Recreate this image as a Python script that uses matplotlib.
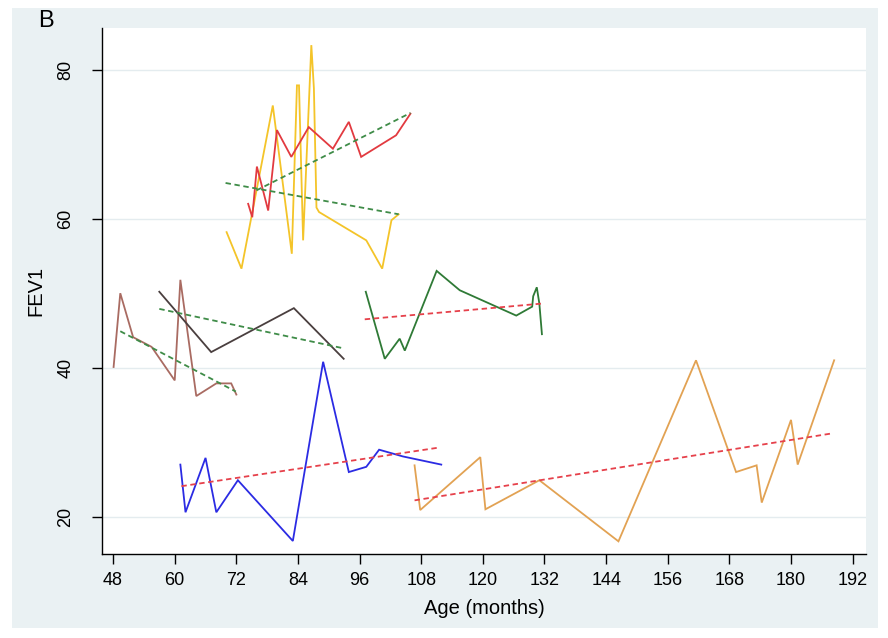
import matplotlib
matplotlib.use("Agg")
import matplotlib.pyplot as plt
from matplotlib.patches import Rectangle

# ---- individual FEV1 trajectories (age in months, FEV1) ----
red_age = [74.3, 75.1, 76.0, 78.2, 79.9, 82.7, 86.1, 90.8, 93.9, 96.3, 103.1, 105.9]
red_fev = [62.0, 60.2, 67.0, 61.1, 71.9, 68.3, 72.3, 69.4, 73.0, 68.3, 71.2, 74.1]

yellow_age = [70.1, 73.0, 79.1, 82.8, 83.8, 84.2, 85.0, 86.6, 87.1, 87.6, 88.1, 97.3, 100.4, 102.2, 103.6]
yellow_fev = [58.2, 53.3, 75.2, 55.3, 77.9, 77.9, 57.1, 83.3, 77.5, 61.5, 60.9, 57.1, 53.3, 59.8, 60.6]

brown_age = [48.1, 49.4, 51.9, 55.5, 60.0, 61.1, 64.2, 68.1, 71.0, 72.0]
brown_fev = [40.1, 50.0, 44.1, 42.8, 38.3, 51.8, 36.2, 37.9, 37.9, 36.4]

gray_age = [57.0, 67.1, 83.2, 92.9]
gray_fev = [50.2, 42.1, 48.0, 41.2]

green_age = [97.2, 100.9, 103.8, 104.8, 111.0, 115.5, 126.5, 129.6, 129.8, 130.5, 131.0, 131.5]
green_fev = [50.2, 41.2, 43.9, 42.3, 53.0, 50.4, 47.0, 48.2, 49.6, 50.8, 48.6, 44.5]

blue_age = [61.1, 62.1, 66.0, 68.1, 72.3, 83.0, 88.9, 93.9, 97.3, 99.8, 104.4, 111.9]
blue_fev = [27.0, 20.6, 27.9, 20.6, 24.9, 16.75, 40.8, 26.0, 26.7, 29.0, 28.1, 27.0]

orange_age = [106.7, 107.8, 119.5, 120.5, 131.0, 146.4, 161.5, 169.3, 173.3, 174.3, 180.0, 181.3, 188.4]
orange_fev = [26.9, 20.9, 28.0, 21.0, 24.9, 16.7, 41.0, 26.0, 26.9, 21.9, 33.0, 27.0, 41.0]

# ---- fitted linear trends (start / end of each subject's age range) ----
fit_red_age, fit_red_fev = [75.9, 105.9], [63.8, 74.2]
fit_yellow_age, fit_yellow_fev = [69.9, 103.6], [64.8, 60.6]
fit_brown_age, fit_brown_fev = [49.4, 71.9], [44.9, 36.8]
fit_gray_age, fit_gray_fev = [57.0, 92.9], [47.9, 42.6]
fit_green_age, fit_green_fev = [97.0, 131.3], [46.5, 48.6]
fit_blue_age, fit_blue_fev = [61.3, 111.6], [24.1, 29.3]
fit_orange_age, fit_orange_fev = [106.7, 188.1], [22.2, 31.2]

x_ticks = [48, 60, 72, 84, 96, 108, 120, 132, 144, 156, 168, 180, 192]
y_ticks = [20, 40, 60, 80]

panel_bg = "#eaf1f3"
grid_col = "#e4ecef"

plt.rcParams["font.family"] = ["Liberation Sans", "DejaVu Sans"]

fig = plt.figure(figsize=(8.88, 6.38), dpi=100)
fig.patch.set_facecolor("white")
fig.patches.append(Rectangle((12 / 888, 1 - 628 / 638), (878 - 12) / 888, (628 - 8) / 638,
                             transform=fig.transFigure, facecolor=panel_bg,
                             edgecolor="none", zorder=-5))

ax = fig.add_axes([102.3 / 888, 1 - 554 / 638, (866 - 102.3) / 888, (554 - 28) / 638])
ax.set_zorder(5)
ax.set_facecolor("white")
ax.set_xlim(45.9, 194.6)
ax.set_ylim(15.0, 85.6)

for y in y_ticks:
    ax.axhline(y, color=grid_col, lw=1.0, zorder=1)

solid_lw = 1.3
series = [
    (yellow_age, yellow_fev, "#f4c429"),
    (red_age, red_fev, "#e23a40"),
    (brown_age, brown_fev, "#a96b62"),
    (gray_age, gray_fev, "#4a3f3f"),
    (green_age, green_fev, "#2f7a36"),
    (blue_age, blue_fev, "#2b2be3"),
    (orange_age, orange_fev, "#e2a253"),
]
for xs, ys, c in series:
    ax.plot(xs, ys, color=c, lw=solid_lw, solid_joinstyle="miter", zorder=3)

dash = (0, (3.0, 2.0))
fits_green = [(fit_red_age, fit_red_fev), (fit_yellow_age, fit_yellow_fev),
              (fit_brown_age, fit_brown_fev), (fit_gray_age, fit_gray_fev)]
fits_red = [(fit_green_age, fit_green_fev), (fit_blue_age, fit_blue_fev),
            (fit_orange_age, fit_orange_fev)]
for xs, ys in fits_green:
    ax.plot(xs, ys, color="#3f8c48", lw=1.3, linestyle=dash, zorder=4)
for xs, ys in fits_red:
    ax.plot(xs, ys, color="#e6414b", lw=1.3, linestyle=dash, zorder=4)

ax.set_xticks(x_ticks)
ax.set_yticks(y_ticks)
ax.tick_params(axis="both", direction="out", length=7, width=1.0, colors="black",
               labelsize=13)
ax.tick_params(axis="x", pad=6)
ax.tick_params(axis="y", pad=13)
for lab in ax.get_yticklabels():
    lab.set_rotation(90)
    lab.set_va("center")
for side in ("top", "right"):
    ax.spines[side].set_visible(False)
for side in ("left", "bottom"):
    ax.spines[side].set_linewidth(1.0)
    ax.spines[side].set_color("black")

ax.set_xlabel("Age (months)", fontsize=14.5, labelpad=7)
ax.set_ylabel("FEV1", fontsize=14.5, labelpad=9)

fig.text(38 / 888, 1 - 21 / 638, "B", fontsize=17, va="center", ha="left")

fig.savefig("out.png", dpi=100, facecolor=fig.get_facecolor())
